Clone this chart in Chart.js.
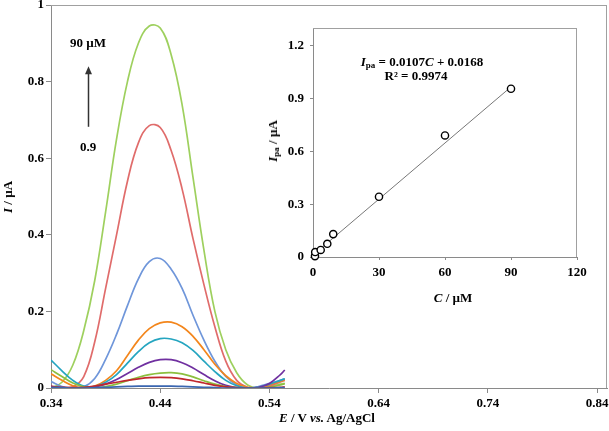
<!DOCTYPE html>
<html>
<head>
<meta charset="utf-8">
<script src="https://cdn.jsdelivr.net/npm/chart.js@4.4.1/dist/chart.umd.min.js"></script>
<style>
  html, body { margin: 0; padding: 0; background: #fff; }
  #wrap { position: relative; width: 609px; height: 431px; overflow: hidden; }
  canvas { position: absolute; top: 0; }
  #mainChart { left: 0; }
  #insetChart { left: 262px; }
  .lbl {
    position: absolute;
    font-family: "Liberation Serif", "Times New Roman", serif;
    font-weight: bold;
    font-size: 13px;
    color: #000;
    white-space: nowrap;
    transform: translate(-50%, -50%);
  }
  .rot { transform: translate(-50%, -50%) rotate(-90deg); }
  .lbl sub { font-size: 9px; vertical-align: -2px; line-height: 0; }
</style>
</head>
<body>
<div id="wrap">
  <canvas id="mainChart" width="609" height="431"></canvas>
  <canvas id="insetChart" width="345" height="310"></canvas>

  <div class="lbl rot" style="left:8px; top:197px;"><i>I</i> / µA</div>
  <div class="lbl" style="left:327px; top:418px;"><i>E</i> / V <i>vs.</i> Ag/AgCl</div>
  <div class="lbl" style="left:88px; top:43px;">90 µM</div>
  <div class="lbl" style="left:88px; top:147px;">0.9</div>

  <div class="lbl rot" style="left:273px; top:141px;"><i>I</i><sub>pa</sub> / µA</div>
  <div class="lbl" style="left:453px; top:298px;"><i>C</i> / µM</div>
  <div class="lbl" style="left:422px; top:62px;"><i>I</i><sub>pa</sub> = 0.0107<i>C</i> + 0.0168</div>
  <div class="lbl" style="left:416px; top:76px;">R² = 0.9974</div>
</div>

<script>
// --- data: DPV curves (main plot) ---
const potentials = [0.34, 0.35, 0.36, 0.37, 0.38, 0.39, 0.40, 0.41, 0.42, 0.43, 0.44, 0.45,
                    0.46, 0.47, 0.48, 0.49, 0.50, 0.51, 0.52, 0.53, 0.54, 0.55, 0.554];

const curveLabels = ["0.9 µM", "1 µM", "3 µM", "6 µM", "9 µM", "15 µM", "30 µM", "60 µM", "90 µM"];

const curve09 = [0.002, 0.001, 0.0, 0.0, 0.001, 0.002, 0.003, 0.004, 0.005, 0.005, 0.005, 0.005,
                 0.004, 0.003, 0.002, 0.001, 0.0, 0.0, 0.0, 0.0, 0.0, 0.001, 0.001];
const curve1 = [0.004, 0.002, 0.001, 0.002, 0.005, 0.01, 0.015, 0.02, 0.024, 0.027, 0.028, 0.027,
                0.024, 0.019, 0.013, 0.007, 0.003, 0.001, 0.0, 0.0, 0.001, 0.002, 0.003];
const curve3 = [0.048, 0.03, 0.013, 0.003, 0.0, 0.004, 0.01, 0.019, 0.028, 0.035, 0.039, 0.04,
                0.037, 0.029, 0.019, 0.01, 0.004, 0.001, 0.0, 0.0, 0.002, 0.008, 0.011];
const curve6 = [0.004, 0.001, 0.0, 0.0, 0.003, 0.01, 0.022, 0.038, 0.054, 0.067, 0.074, 0.074,
                0.066, 0.052, 0.035, 0.019, 0.007, 0.001, 0.0, 0.002, 0.012, 0.035, 0.047];
const curve9 = [0.073, 0.045, 0.02, 0.005, 0.004, 0.015, 0.035, 0.065, 0.095, 0.118, 0.129, 0.128,
                0.118, 0.098, 0.07, 0.043, 0.02, 0.006, 0.0, 0.002, 0.01, 0.02, 0.024];
const curve15 = [0.037, 0.02, 0.006, 0.0, 0.005, 0.02, 0.045, 0.085, 0.125, 0.155, 0.17, 0.172,
                 0.16, 0.135, 0.10, 0.062, 0.032, 0.012, 0.002, 0.0, 0.008, 0.018, 0.022];
const curve30 = [0.017, 0.004, 0.0, 0.003, 0.025, 0.075, 0.14, 0.215, 0.285, 0.33, 0.338, 0.31,
                 0.26, 0.19, 0.125, 0.07, 0.03, 0.008, 0.0, 0.004, 0.012, 0.02, 0.024];
const curve60 = [0.004, 0.0, 0.003, 0.03, 0.12, 0.26, 0.40, 0.54, 0.64, 0.685, 0.68, 0.62,
                 0.52, 0.39, 0.27, 0.16, 0.07, 0.02, 0.002, 0.0, 0.006, 0.016, 0.02];
const curve90 = [0.0, 0.015, 0.06, 0.15, 0.28, 0.46, 0.65, 0.80, 0.90, 0.945, 0.94, 0.87,
                 0.74, 0.55, 0.36, 0.20, 0.10, 0.04, 0.008, 0.0, 0.004, 0.01, 0.012];

const curveColors = ["#3A66B0", "#C0272D", "#8CBF3F", "#7030A0", "#25A5C0",
                     "#F3861C", "#6F96DA", "#E06C6B", "#9ED05E"];

const mainXTicks = [0.34, 0.44, 0.54, 0.64, 0.74, 0.84];
const mainYTicks = [0, 0.2, 0.4, 0.6, 0.8, 1];

// arrow annotation (potential, from current, to current)
const arrowE = 0.374;
const arrowFrom = 0.682;
const arrowTo = 0.84;

// --- data: calibration inset ---
const concentrations = [0.9, 1, 3.5, 6.5, 9.2, 30, 60, 90];
const peakCurrents = [0.005, 0.028, 0.04, 0.075, 0.13, 0.342, 0.69, 0.955];
const trendC = [0.9, 89];
const trendI = [0.02, 0.955];
const insetXTicks = [0, 30, 60, 90, 120];
const insetYTicks = [0, 0.3, 0.6, 0.9, 1.2];

const FONT = { family: '"Liberation Serif", "Times New Roman", serif', size: 13, weight: "bold" };
const AXIS_GRAY = "#8a8a8a";

function toPoints(xs, ys) {
  return xs.map((x, i) => ({ x: x, y: ys[i] }));
}

// fixe la largeur/hauteur des axes pour caler la zone du graphe
function fixWidth(w) {
  return function (scale) { scale.width = w; scale.paddingTop = 0; scale.paddingBottom = 0; };
}
function fixHeight(h) {
  return function (scale) { scale.height = h; scale.paddingLeft = 0; scale.paddingRight = 0; };
}
function setTicks(values) {
  return function (scale) { scale.ticks = values.map((v) => ({ value: v })); };
}

// cadre gris autour de la zone du graphe
function framePlugin(sides) {
  return {
    id: "frame",
    beforeDatasetsDraw(chart) {
      const { ctx, chartArea: a } = chart;
      ctx.save();
      ctx.strokeStyle = "#a0a0a0";
      ctx.lineWidth = 1;
      ctx.beginPath();
      if (sides.includes("top")) { ctx.moveTo(a.left, a.top + 0.5); ctx.lineTo(a.right, a.top + 0.5); }
      if (sides.includes("right")) { ctx.moveTo(a.right - 0.5, a.top); ctx.lineTo(a.right - 0.5, a.bottom); }
      ctx.stroke();
      ctx.restore();
    },
  };
}

const arrowPlugin = {
  id: "arrow",
  afterDatasetsDraw(chart) {
    const { ctx, scales } = chart;
    const px = Math.round(scales.x.getPixelForValue(arrowE)) + 0.5;
    const y0 = scales.y.getPixelForValue(arrowFrom);
    const y1 = scales.y.getPixelForValue(arrowTo);
    ctx.save();
    ctx.strokeStyle = "#333";
    ctx.fillStyle = "#333";
    ctx.lineWidth = 1.5;
    ctx.beginPath();
    ctx.moveTo(px, y0);
    ctx.lineTo(px, y1 + 6);
    ctx.stroke();
    ctx.beginPath();
    ctx.moveTo(px, y1);
    ctx.lineTo(px - 3.5, y1 + 8);
    ctx.lineTo(px + 3.5, y1 + 8);
    ctx.closePath();
    ctx.fill();
    ctx.restore();
  },
};

// --- main chart ---
const curves = [curve09, curve1, curve3, curve6, curve9, curve15, curve30, curve60, curve90];

new Chart(document.getElementById("mainChart"), {
  type: "line",
  data: {
    datasets: curves.map((c, i) => ({
      label: curveLabels[i],
      data: toPoints(potentials, c),
      borderColor: curveColors[i],
      borderWidth: 1.7,
      pointRadius: 0,
      tension: 0.4,
      fill: false,
    })),
  },
  options: {
    responsive: false,
    animation: false,
    devicePixelRatio: 1,
    layout: { padding: { top: 5, right: 2, left: 0, bottom: 0 } },
    plugins: { legend: { display: false }, tooltip: { enabled: false } },
    scales: {
      x: {
        type: "linear",
        min: 0.34,
        max: 0.849,
        afterFit: fixHeight(43),
        afterBuildTicks: setTicks(mainXTicks),
        grid: { drawOnChartArea: false, drawTicks: true, tickLength: 5, color: AXIS_GRAY },
        border: { color: AXIS_GRAY },
        ticks: { font: FONT, color: "#000", padding: 3, maxRotation: 0, callback: (v) => v.toFixed(2) },
      },
      y: {
        min: 0,
        max: 1,
        afterFit: fixWidth(51),
        afterBuildTicks: setTicks(mainYTicks),
        grid: { drawOnChartArea: false, drawTicks: true, tickLength: 5, color: AXIS_GRAY },
        border: { color: AXIS_GRAY },
        ticks: { font: FONT, color: "#000", padding: 2, callback: (v) => String(v) },
      },
    },
  },
  plugins: [framePlugin(["top", "right"]), arrowPlugin],
});

// --- inset chart ---
new Chart(document.getElementById("insetChart"), {
  type: "scatter",
  data: {
    datasets: [
      {
        label: "Ipa",
        data: toPoints(concentrations, peakCurrents),
        pointStyle: "circle",
        pointRadius: 3.6,
        borderColor: "#000",
        borderWidth: 1.4,
        backgroundColor: "#fff",
        showLine: false,
        clip: false,
      },
      {
        label: "fit",
        data: toPoints(trendC, trendI),
        showLine: true,
        borderColor: "#777",
        borderWidth: 1,
        pointRadius: 0,
      },
    ],
  },
  options: {
    responsive: false,
    animation: false,
    devicePixelRatio: 1,
    layout: { padding: { top: 28, right: 30, left: 0, bottom: 0 } },
    plugins: { legend: { display: false }, tooltip: { enabled: false } },
    scales: {
      x: {
        type: "linear",
        min: 0,
        max: 120,
        afterFit: fixHeight(53),
        afterBuildTicks: setTicks(insetXTicks),
        grid: { drawOnChartArea: false, drawTicks: true, tickLength: 3, color: AXIS_GRAY },
        border: { color: AXIS_GRAY },
        ticks: { font: FONT, color: "#000", padding: 5, maxRotation: 0, callback: (v) => String(v) },
      },
      y: {
        min: 0,
        max: 1.3,
        afterFit: fixWidth(51),
        afterBuildTicks: setTicks(insetYTicks),
        grid: { drawOnChartArea: false, drawTicks: true, tickLength: 3, color: AXIS_GRAY },
        border: { color: AXIS_GRAY },
        ticks: { font: FONT, color: "#000", padding: 6, callback: (v) => String(v) },
      },
    },
  },
  plugins: [framePlugin(["top", "right"])],
});
</script>
</body>
</html>
